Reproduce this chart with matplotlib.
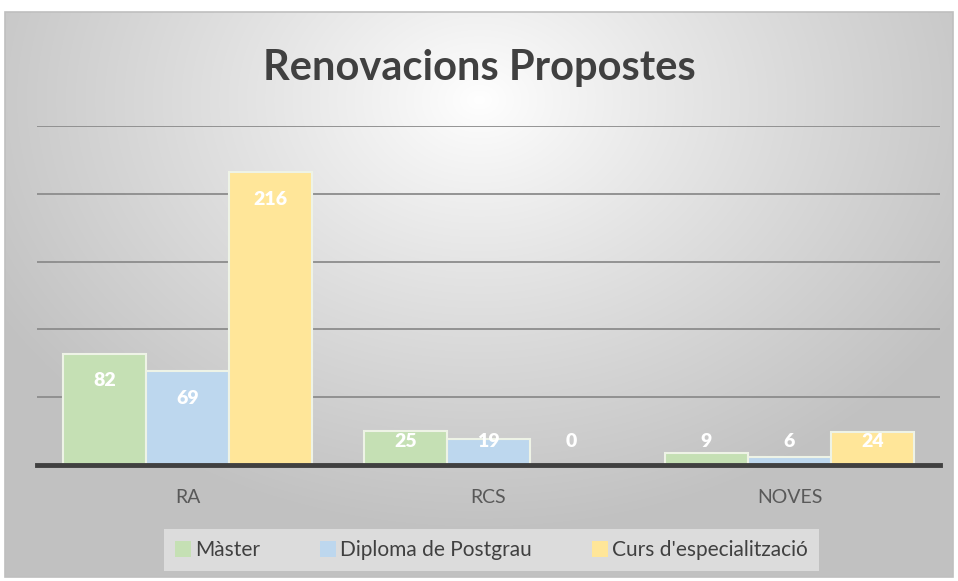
import numpy as np
import matplotlib.pyplot as plt
from matplotlib.patches import Rectangle, Patch

categories = ['RA', 'RCS', 'NOVES']
series = ['Màster', 'Diploma de Postgrau', "Curs d'especialització"]
master = [82, 25, 9]
postgrau = [69, 19, 6]
curs = [216, 0, 24]
colors = ['#C5E0B4', '#BDD7EE', '#FFE699']

plt.rcParams['font.family'] = ['Lato', 'DejaVu Sans']

W, H = 958, 581
fig = plt.figure(figsize=(W / 100, H / 100), dpi=100)

# background with radial gradient, like the office chart style
bg = fig.add_axes([0, 0, 1, 1])
bg.set_xlim(0, W)
bg.set_ylim(H, 0)
bg.axis('off')
yy, xx = np.mgrid[0:H, 0:W]
r = np.sqrt(((xx - 479) / 560.0) ** 2 + ((yy - 90) / 440.0) ** 2)
shade = 1.0 - 0.24 * np.clip(r, 0, 1) ** 0.9
img = np.dstack([shade, shade, shade])
bg.imshow(img, extent=(5, 953, 577, 12), aspect='auto', zorder=0)
bg.add_patch(Rectangle((5, 12), 948, 565, fill=False, edgecolor='#bfbfbf', lw=1.2, zorder=1))

ax = fig.add_axes([37 / W, 1 - 465 / H, 903 / W, 339 / H])
ax.patch.set_alpha(0)
x = np.arange(len(categories))
w = 0.276
for i, (vals, col, name) in enumerate(zip([master, postgrau, curs], colors, series)):
    pos = x + (i - 1) * w
    ax.bar(pos, vals, width=w, color=col, edgecolor='#eef3e6', linewidth=1.5, label=name, zorder=3)
    for p, v in zip(pos, vals):
        ly = max(v - 20, 17.5)
        ax.text(p, ly, str(v), ha='center', va='center', color='white',
                fontsize=14, fontweight='heavy', zorder=4)

ax.set_xlim(-0.5, 2.5)
ax.set_ylim(0, 250)
ax.set_yticks([50, 100, 150, 200, 250])
ax.yaxis.grid(True, color='#8c8c8c', lw=1.3, zorder=1)
ax.tick_params(axis='y', left=False, labelleft=False)
ax.tick_params(axis='x', bottom=False, labelsize=14, labelcolor='#595959', pad=14)
ax.set_xticks(x)
ax.set_xticklabels(categories)
for s in ['top', 'right', 'left']:
    ax.spines[s].set_visible(False)
ax.spines['bottom'].set_color('#404040')
ax.spines['bottom'].set_linewidth(3.5)
ax.spines['bottom'].set_zorder(5)

fig.text(0.5, 1 - 68 / H, 'Renovacions Propostes', ha='center', va='center',
         fontsize=30, fontweight='bold', color='#404040')

handles = [Patch(facecolor=c, edgecolor='none') for c in colors]
leg = fig.legend(handles, series, loc='center', bbox_to_anchor=(0.513, 1 - 550 / H),
                 ncol=3, frameon=True, fontsize=15, handlelength=0.75, handleheight=0.8,
                 handletextpad=0.2, columnspacing=2.9, borderpad=0.55, borderaxespad=0,
                 fancybox=False)
leg.get_frame().set_facecolor('#e8e8e8')
leg.get_frame().set_edgecolor('none')
leg.get_frame().set_alpha(0.7)
for t in leg.get_texts():
    t.set_color('#404040')

fig.savefig('out.png', dpi=100)
